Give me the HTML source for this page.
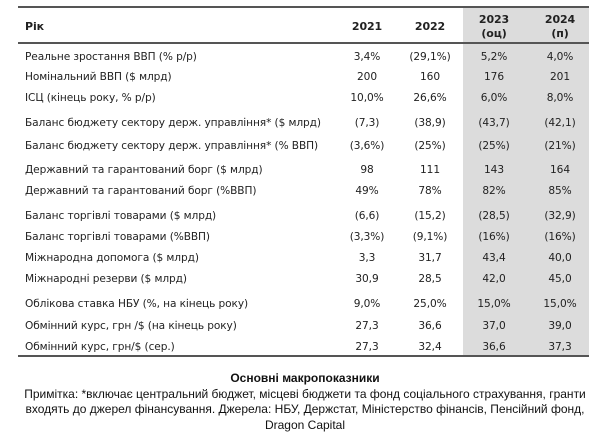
<!DOCTYPE html>
<html><head><meta charset="utf-8"><style>
body{margin:0;width:610px;height:441px;background:#fff;position:relative;overflow:hidden;font-family:"DejaVu Sans","Liberation Sans",sans-serif;color:#222}
.t{position:absolute;font-size:10.6px;white-space:nowrap;line-height:12px;letter-spacing:-0.1px}
.l{left:25px}
.c{transform:translateX(-50%);text-align:center}
.b{font-weight:bold;font-size:11px}
.line{position:absolute;left:18px;width:571px;background:#555}
.cap{position:absolute;left:0;width:610px;text-align:center;font-family:"Liberation Sans",sans-serif;font-size:12px;line-height:15.5px;color:#111}
</style></head><body>
<div style="position:absolute;left:463px;top:8px;width:126px;height:348px;background:#dcdcdc"></div>
<div class="line" style="top:6px;height:2px"></div>
<div class="line" style="top:42px;height:1.5px"></div>
<div class="line" style="top:355px;height:2px"></div>
<div class="t l b" style="top:21px">Рік</div>
<div class="t c b" style="left:367px;top:21px">2021</div>
<div class="t c b" style="left:430px;top:21px">2022</div>
<div class="t c b" style="left:494px;top:13px;line-height:14px">2023<br>(оц)</div>
<div class="t c b" style="left:560px;top:13px;line-height:14px">2024<br>(п)</div>
<div id="rows"></div>
<script>
var r=[[57,"Реальне зростання ВВП (% р/р)","3,4%","(29,1%)","5,2%","4,0%"],
[77,"Номінальний ВВП ($ млрд)","200","160","176","201"],
[98,"ІСЦ (кінець року, % р/р)","10,0%","26,6%","6,0%","8,0%"],
[123,"Баланс бюджету сектору держ. управління* ($ млрд)","(7,3)","(38,9)","(43,7)","(42,1)"],
[146,"Баланс бюджету сектору держ. управління* (% ВВП)","(3,6%)","(25%)","(25%)","(21%)"],
[170,"Державний та гарантований борг ($ млрд)","98","111","143","164"],
[191,"Державний та гарантований борг (%ВВП)","49%","78%","82%","85%"],
[216,"Баланс торгівлі товарами ($  млрд)","(6,6)","(15,2)","(28,5)","(32,9)"],
[237,"Баланс торгівлі товарами (%ВВП)","(3,3%)","(9,1%)","(16%)","(16%)"],
[258,"Міжнародна допомога ($ млрд)","3,3","31,7","43,4","40,0"],
[279,"Міжнародні резерви ($ млрд)","30,9","28,5","42,0","45,0"],
[304,"Облікова ставка НБУ (%, на кінець року)","9,0%","25,0%","15,0%","15,0%"],
[326,"Обмінний курс, грн /$ (на кінець року)","27,3","36,6","37,0","39,0"],
[347,"Обмінний курс, грн/$  (сер.)","27,3","32,4","36,6","37,3"]];
var xs=[367,430,494,560],h="";
r.forEach(function(a){var y=a[0]-6;h+='<div class="t l" style="top:'+y+'px">'+a[1]+'</div>';
for(var i=0;i<4;i++)h+='<div class="t c" style="left:'+xs[i]+'px;top:'+y+'px">'+a[i+2]+'</div>';});
document.getElementById("rows").innerHTML=h;
</script>
<div class="cap" style="top:371px"><b>Основні макропоказники</b><br>Примітка: *включає центральний бюджет, місцеві бюджети та фонд соціального страхування, гранти<br>входять до джерел фінансування. Джерела: НБУ, Держстат, Міністерство фінансів, Пенсійний фонд,<br>Dragon Capital</div>
</body></html>
